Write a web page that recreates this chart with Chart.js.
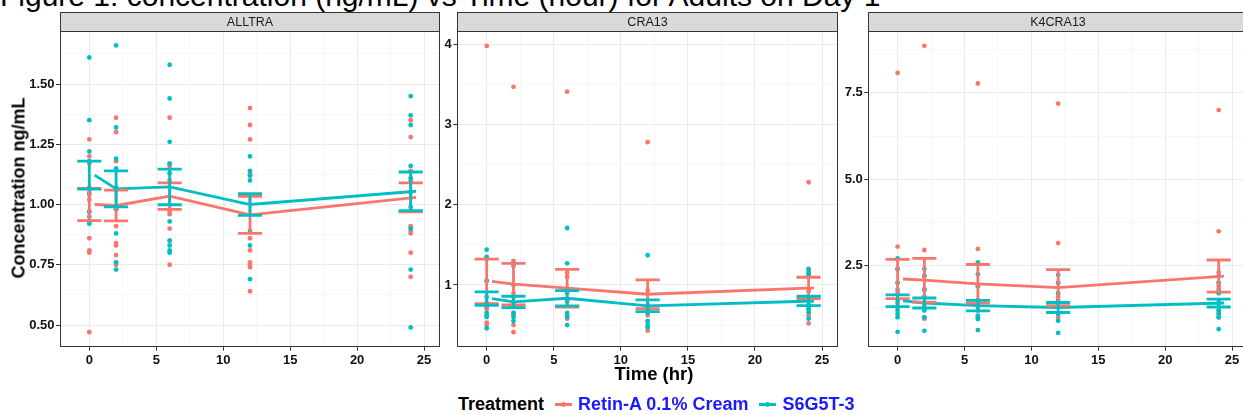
<!DOCTYPE html>
<html>
<head>
<meta charset="utf-8">
<script src="https://cdn.jsdelivr.net/npm/chart.js@4.4.1/dist/chart.umd.min.js"></script>
<style>
  html, body { margin: 0; padding: 0; background: #fff; overflow: hidden; }
  #stage { position: relative; width: 1243px; height: 415px; overflow: hidden; font-family: "Liberation Sans", Arial, sans-serif; color: #000; }
  #stage canvas { position: absolute; top: 0; }
  #title { position: absolute; left: 0; top: -19px; font-size: 30px; line-height: 30px; white-space: nowrap; }
  #ytitle { position: absolute; left: 19px; top: 188px; transform: translate(-50%, -50%) rotate(-90deg); font-weight: bold; font-size: 18px; white-space: nowrap; }
  #xtitle { position: absolute; left: 654px; top: 374px; transform: translate(-50%, -50%); font-weight: bold; font-size: 18.5px; white-space: nowrap; }
  #legend { position: absolute; left: 458px; top: 404px; transform: translateY(-50%); display: flex; align-items: center; font-weight: bold; font-size: 18px; white-space: nowrap; }
  #legend .lab { color: #1a1aff; }
  #legend svg { display: block; }
</style>
</head>
<body>
<div id="stage">
  <div id="title">Figure 1: concentration (ng/mL) vs Time (hour) for Adults on Day 1</div>
  <canvas id="panel0" width="444" height="380" style="left:0px"></canvas>
  <canvas id="panel1" width="398" height="380" style="left:444px"></canvas>
  <canvas id="panel2" width="410" height="380" style="left:842px"></canvas>
  <div id="ytitle">Concentration ng/mL</div>
  <div id="xtitle">Time (hr)</div>
  <div id="legend"></div>
</div>
<script>
// sampling times (hr) and where the mean line is drawn
const times = [0, 2, 6, 12, 24];
const lineTimes = [0.4, 2, 6, 12, 24.4];
const treatments = ['Retin-A 0.1% Cream', 'S6G5T-3'];
const colors = ['#F8766D', '#00BFC4'];
const analytes = ['ALLTRA', 'CRA13', 'K4CRA13'];

// ALLTRA: individual subjects per time, then mean and SE
const alltraRetinA = [
  [1.27, 1.20, 1.17, 1.04, 1.02, 0.97, 0.93, 0.86, 0.81, 0.80, 0.47],
  [1.36, 1.30, 1.18, 1.06, 0.98, 0.91, 0.84, 0.83, 0.79, 0.76, 0.75],
  [1.36, 1.17, 1.16, 1.10, 0.98, 0.97, 0.96, 0.90, 0.85, 0.75],
  [1.40, 1.33, 1.27, 1.13, 1.12, 0.86, 0.81, 0.76, 0.75, 0.74, 0.64],
  [1.35, 1.28, 1.14, 1.10, 0.91, 0.89, 0.88, 0.80, 0.70]
];
const alltraS6G5T3 = [
  [1.61, 1.35, 1.22, 1.18, 1.07, 1.05, 0.97, 0.95, 0.93, 0.92],
  [1.66, 1.32, 1.19, 1.15, 1.07, 0.98, 0.88, 0.76, 0.73],
  [1.58, 1.44, 1.26, 1.17, 1.13, 0.93, 0.85, 0.83, 0.81, 0.80],
  [1.20, 1.14, 1.12, 1.10, 0.89, 0.83, 0.69],
  [1.45, 1.37, 1.33, 1.16, 1.11, 1.05, 0.99, 0.90, 0.73, 0.49]
];
const alltraRetinAMean = [1.000, 0.996, 1.035, 0.957, 1.030];
const alltraRetinASE = [0.067, 0.064, 0.055, 0.077, 0.060];
const alltraS6G5T3Mean = [1.122, 1.065, 1.073, 1.000, 1.055];
const alltraS6G5T3SE = [0.058, 0.075, 0.074, 0.045, 0.080];

// CRA13
const cra13RetinA = [
  [3.98, 1.05, 0.78, 0.75, 0.72, 0.70, 0.53, 0.50],
  [3.47, 1.30, 1.28, 0.90, 0.75, 0.65, 0.62, 0.50, 0.41],
  [3.41, 1.15, 1.10, 0.95, 0.80, 0.62, 0.58],
  [2.78, 0.93, 0.70, 0.62, 0.55, 0.43],
  [2.28, 1.18, 1.15, 0.95, 0.92, 0.85, 0.70, 0.62, 0.52]
];
const cra13S6G5T3 = [
  [1.44, 1.35, 1.33, 1.05, 0.85, 0.75, 0.65, 0.62, 0.60, 0.46],
  [1.24, 1.00, 0.85, 0.75, 0.65, 0.60, 0.55],
  [1.71, 1.27, 0.95, 0.90, 0.80, 0.65, 0.60, 0.50],
  [1.37, 0.75, 0.70, 0.65, 0.55, 0.50, 0.47],
  [1.20, 1.15, 1.12, 1.10, 0.85, 0.75, 0.70, 0.66, 0.58]
];
const cra13RetinAMean = [1.045, 1.010, 0.960, 0.884, 0.963];
const cra13RetinASE = [0.278, 0.260, 0.235, 0.180, 0.133];
const cra13S6G5T3Mean = [0.830, 0.788, 0.834, 0.740, 0.800];
const cra13S6G5T3SE = [0.083, 0.071, 0.096, 0.073, 0.059];

// K4CRA13
const k4cra13RetinA = [
  [8.08, 3.05, 2.40, 2.00, 1.70, 1.50, 1.40, 1.30],
  [8.86, 2.95, 2.20, 1.80, 1.30, 1.00, 0.96],
  [7.77, 2.98, 1.90, 1.50, 1.30, 1.20],
  [7.19, 3.15, 2.00, 1.60, 1.30, 1.00],
  [7.00, 3.49, 2.30, 2.00, 1.90, 1.20, 1.10, 1.00]
];
const k4cra13S6G5T3 = [
  [2.71, 2.40, 2.00, 1.80, 1.50, 1.30, 1.20, 1.10, 1.00, 0.58],
  [2.40, 2.20, 1.80, 1.60, 1.40, 1.20, 1.00, 0.61],
  [2.59, 2.25, 1.90, 1.50, 1.40, 1.20, 1.05, 1.00, 0.95, 0.63],
  [2.23, 2.00, 1.70, 1.50, 1.30, 1.10, 0.90, 0.55],
  [2.20, 2.00, 1.80, 1.70, 1.50, 1.40, 1.20, 1.10, 1.00, 0.66]
];
const k4cra13RetinAMean = [2.110, 2.075, 1.970, 1.860, 2.195];
const k4cra13RetinASE = [0.570, 0.635, 0.560, 0.520, 0.465];
const k4cra13S6G5T3Mean = [1.480, 1.415, 1.340, 1.285, 1.415];
const k4cra13S6G5T3SE = [0.170, 0.145, 0.150, 0.145, 0.115];

const panels = [
  { obs: [alltraRetinA, alltraS6G5T3], mean: [alltraRetinAMean, alltraS6G5T3Mean], se: [alltraRetinASE, alltraS6G5T3SE],
    y: { min: 0.41, max: 1.72, step: 0.125, major: 0.25, digits: 2 }, axisWidth: 60, padRight: 2.3 },
  { obs: [cra13RetinA, cra13S6G5T3], mean: [cra13RetinAMean, cra13S6G5T3Mean], se: [cra13RetinASE, cra13S6G5T3SE],
    y: { min: 0.23, max: 4.166, step: 0.5, major: 1, digits: 0 }, axisWidth: 13.3, padRight: 3 },
  { obs: [k4cra13RetinA, k4cra13S6G5T3], mean: [k4cra13RetinAMean, k4cra13S6G5T3Mean], se: [k4cra13RetinASE, k4cra13S6G5T3SE],
    y: { min: 0.15, max: 9.29, step: 1.25, major: 2.5, digits: 1 }, axisWidth: 26.3, padRight: 2 }
];

const capHalfWidth = 0.9;
const FONT = '"Liberation Sans", Arial, sans-serif';

function isMajor(v, major) {
  const r = v / major;
  return Math.abs(r - Math.round(r)) < 1e-6;
}

function pointData(obs) {
  const out = [];
  obs.forEach((vals, i) => vals.forEach(v => out.push({ x: times[i], y: v })));
  return out;
}

function lineData(mean) {
  return mean.map((m, i) => ({ x: lineTimes[i], y: m }));
}

// caps and whisker as separate segments, split by null gaps
function errorBarData(mean, se) {
  const out = [];
  mean.forEach((m, i) => {
    const t = times[i], hi = m + se[i], lo = m - se[i];
    out.push(
      { x: t - capHalfWidth, y: hi }, { x: t + capHalfWidth, y: hi }, { x: t, y: null },
      { x: t, y: hi }, { x: t, y: lo }, { x: t, y: null },
      { x: t - capHalfWidth, y: lo }, { x: t + capHalfWidth, y: lo }, { x: t, y: null }
    );
  });
  return out;
}

// grey facet strip on top plus the dark panel frame
const facetStrip = {
  id: 'facetStrip',
  afterDraw(chart, args, opts) {
    const { ctx, chartArea: a } = chart;
    const l = Math.round(a.left) + 0.5, r = Math.round(a.right) - 0.5;
    const t = Math.round(a.top) + 0.5, b = Math.round(a.bottom) - 0.5;
    const st = t - opts.height;
    ctx.save();
    ctx.fillStyle = '#d9d9d9';
    ctx.fillRect(l, st, r - l, opts.height);
    ctx.strokeStyle = '#333333';
    ctx.lineWidth = 1;
    ctx.strokeRect(l, st, r - l, opts.height);
    ctx.strokeRect(l, t, r - l, b - t);
    ctx.fillStyle = '#1a1a1a';
    ctx.font = '12.5px ' + FONT;
    ctx.textAlign = 'center';
    ctx.textBaseline = 'middle';
    ctx.fillText(opts.label, (l + r) / 2, st + opts.height / 2 + 0.5);
    ctx.restore();
  }
};

function gridOpts(major) {
  return {
    color: c => (c.tick && isMajor(c.tick.value, major)) ? '#ebebeb' : '#f3f3f3',
    lineWidth: c => (c.tick && isMajor(c.tick.value, major)) ? 1 : 0.7,
    tickColor: c => (c.tick && isMajor(c.tick.value, major)) ? '#333333' : 'rgba(0,0,0,0)',
    tickLength: 4
  };
}

const tickFont = { family: FONT, size: 13, weight: 'bold' };

Chart.defaults.animation = false;

panels.forEach((p, k) => {
  const datasets = [];
  [0, 1].forEach(s => {
    datasets.push({
      label: treatments[s] + ' obs', data: pointData(p.obs[s]), order: 6 - s,
      pointRadius: 2.4, pointBackgroundColor: colors[s], pointBorderWidth: 0, showLine: false
    });
  });
  [0, 1].forEach(s => {
    datasets.push({
      label: treatments[s] + ' mean', data: lineData(p.mean[s]), order: 4 - s,
      showLine: true, borderColor: colors[s], borderWidth: 2.8, pointRadius: 0, tension: 0
    });
  });
  [0, 1].forEach(s => {
    datasets.push({
      label: treatments[s] + ' se', data: errorBarData(p.mean[s], p.se[s]), order: 2 - s,
      showLine: true, spanGaps: false, borderColor: colors[s], borderWidth: 2.8, pointRadius: 0, tension: 0
    });
  });

  new Chart(document.getElementById('panel' + k), {
    type: 'scatter',
    data: { datasets },
    options: {
      responsive: false,
      animation: false,
      layout: { padding: { top: 31, right: p.padRight, left: 0, bottom: 0 } },
      plugins: { legend: { display: false }, tooltip: { enabled: false }, facetStrip: { label: analytes[k], height: 19 } },
      scales: {
        x: {
          type: 'linear', min: -2.19, max: 26.19,
          afterFit: sc => { sc.height = 33.3; },
          border: { display: false },
          grid: gridOpts(5),
          ticks: {
            stepSize: 2.5, includeBounds: false, autoSkip: false, maxRotation: 0, maxTicksLimit: 100,
            padding: 2, color: '#111111', font: tickFont,
            callback: v => isMajor(v, 5) ? String(v) : ''
          }
        },
        y: {
          type: 'linear', min: p.y.min, max: p.y.max,
          afterFit: sc => { sc.width = p.axisWidth; },
          border: { display: false },
          grid: gridOpts(p.y.major),
          ticks: {
            stepSize: p.y.step, includeBounds: false, autoSkip: false, maxTicksLimit: 100,
            padding: 1.5, color: '#111111', font: tickFont,
            callback: v => isMajor(v, p.y.major) ? v.toFixed(p.y.digits) : ''
          }
        }
      }
    },
    plugins: [facetStrip]
  });
});

// legend: title, then a line-and-point key per treatment
const legend = document.getElementById('legend');
legend.innerHTML = '<span style="margin-right:11px">Treatment</span>' + treatments.map((t, s) =>
  '<svg width="17" height="10" style="margin-right:6px"><line x1="0" y1="5" x2="17" y2="5" stroke="' + colors[s] +
  '" stroke-width="2.8"/><circle cx="8.5" cy="5" r="2.4" fill="' + colors[s] + '"/></svg>' +
  '<span class="lab" style="margin-right:' + (s === 0 ? 11 : 0) + 'px">' + t + '</span>'
).join('');
</script>
</body>
</html>
